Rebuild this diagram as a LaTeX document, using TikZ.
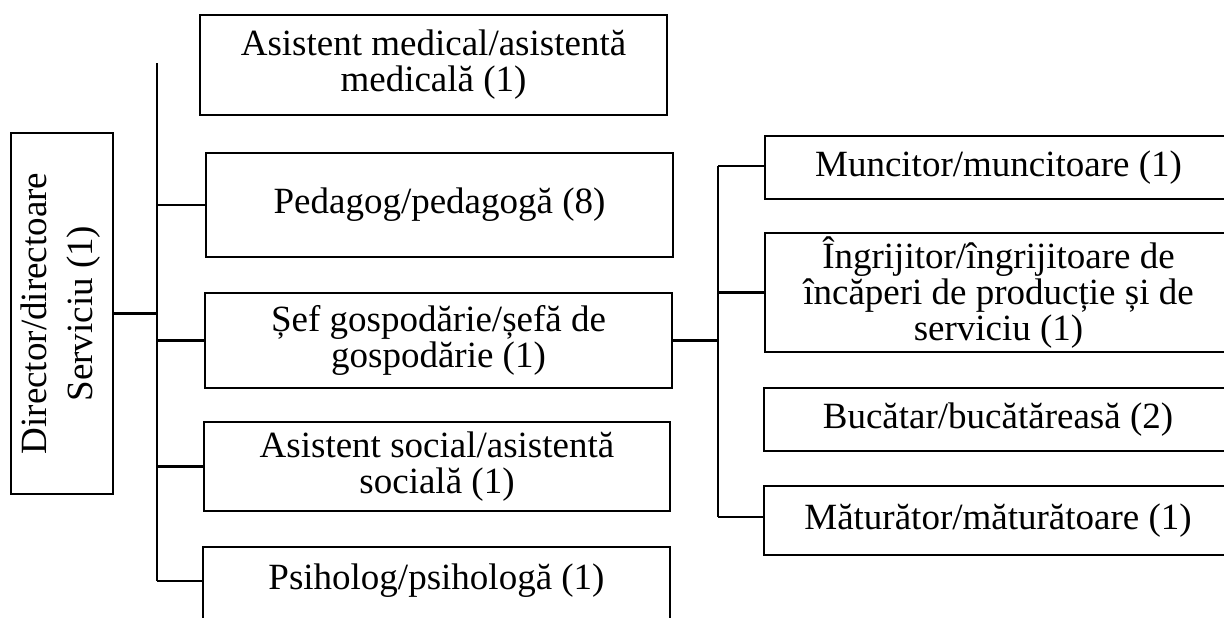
\documentclass[tikz,border=0pt]{standalone}
\usepackage{fontspec}
\setmainfont{Liberation Serif}
\begin{document}
\begin{tikzpicture}[x=0.5pt,y=-0.5pt,
  bx/.style n args={2}{draw, line width=1.3pt, inner sep=0pt, align=center,
    minimum width=#1*0.5pt, minimum height=#2*0.5pt,
    font=\fontsize{18.5}{18}\selectfont},
  txt/.style={inner sep=0pt, align=center, font=\fontsize{18.5}{18}\selectfont},
  conn/.style={line width=1.2pt}]
\useasboundingbox (0,0) rectangle (1224,617);
\clip (0,0) rectangle (1224,617);
\fill[white] (0,0) rectangle (1224,617);

% director
\node[bx={102}{361}] (dir) at (62,313.5)
  {\rotatebox{90}{\begin{tabular}{@{}c@{}}Director/directoare\\[5pt]Serviciu (1)\end{tabular}}};

% left column
\node[bx={467}{100}] (med) at (433.5,65) {Asistent medical/asistentă\\medicală (1)};
\node[bx={467}{104}] (ped) at (439.5,205) {Pedagog/pedagogă (8)};
\node[bx={467}{95}] (sef) at (438.5,340.5) {Șef gospodărie/șefă de\\gospodărie (1)};
\node[bx={466}{89}] (soc) at (437,466.5) {Asistent social/asistentă\\socială (1)};
\node[bx={467}{100}] (psi) at (436.5,597) {};
\node[txt] (psit) at (436.5,581) {Psiholog/psihologă (1)};

% right column
\node[bx={467}{63}] (mun) at (998.5,167.5) {Muncitor/muncitoare (1)};
\node[bx={467}{119}] (ing) at (998.5,292.5) {Îngrijitor/îngrijitoare de\\încăperi de producție și de\\serviciu (1)};
\node[bx={468}{63}] (buc) at (998,419.5) {Bucătar/bucătăreasă (2)};
\node[bx={468}{69}] (mat) at (998,520.5) {Măturător/măturătoare (1)};

% trunks
\coordinate (ttop) at (157,63);
\coordinate (tbot) at (157,581);
\coordinate (stop) at (718,166);
\coordinate (sbot) at (718,517);

\draw[conn] (ttop) -- (tbot);
\draw[conn] (dir.east) -- (dir.east -| ttop);
\draw[conn] (ped.west -| ttop) -- (ped.west);
\draw[conn] (sef.west -| ttop) -- (sef.west);
\draw[conn] (soc.west -| ttop) -- (soc.west);
\draw[conn] (tbot) -- (tbot -| psi.west);

\draw[conn] (stop) -- (sbot);
\draw[conn] (sef.east) -- (sef.east -| stop);
\draw[conn] (stop) -- (stop -| mun.west);
\draw[conn] (ing.west -| stop) -- (ing.west);
\draw[conn] (sbot) -- (sbot -| mat.west);
\end{tikzpicture}
\end{document}
